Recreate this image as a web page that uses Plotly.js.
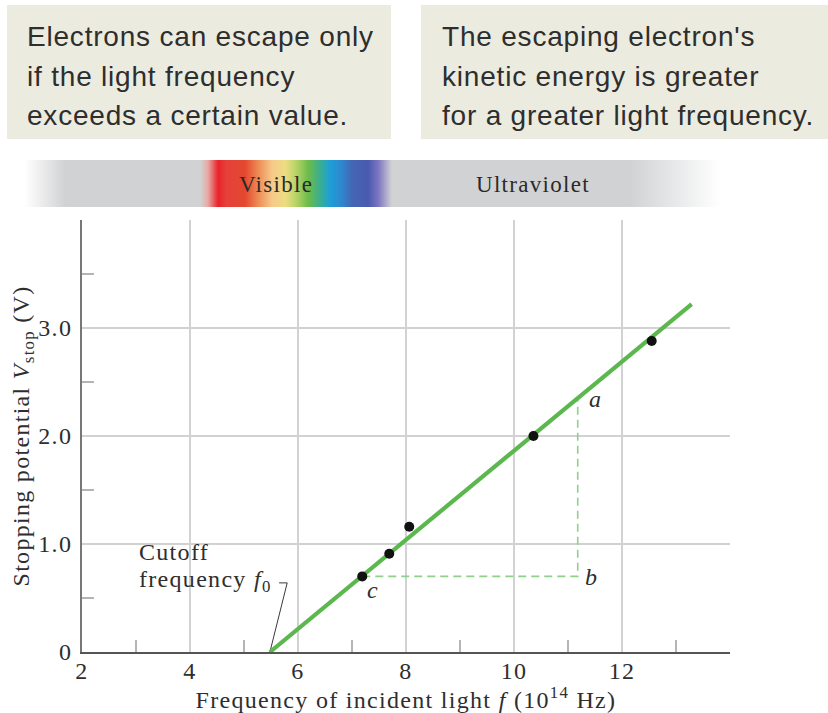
<!DOCTYPE html>
<html>
<head>
<meta charset="utf-8">
<script src="https://cdn.plot.ly/plotly-3.0.1.min.js"></script>
<style>
  html, body { margin: 0; padding: 0; background: #ffffff; }
  #chart { width: 828px; height: 713px; }
  svg text[style*="Liberation Sans"] { letter-spacing: 0.8px; }
  svg text[style*="Liberation Serif"] { letter-spacing: 1.3px; }
</style>
</head>
<body>
<div id="chart"></div>
<script>
// ---- data ----
const freq  = [7.19, 7.69, 8.06, 10.36, 12.55];          // 10^14 Hz
const vstop = [0.70, 0.91, 1.16, 2.00, 2.88];            // V
const fitFreq = [5.48, 13.29];                            // fitted line ends
const fitV    = [0.00, 3.22];
const triFreq = [7.19, 11.18, 11.18];                     // c -> b -> a
const triV    = [0.70, 0.70, 2.34];
const cutoffF0 = 5.48;
const leaderFreq = [5.65, 5.80, cutoffF0];
const leaderV    = [0.64, 0.64, 0.00];

const xTickVals = [2, 4, 6, 8, 10, 12, 14];
const xTickText = ['2', '4', '6', '8', '10', '12', ''];
const xMinorVals = [3, 5, 7, 9, 11, 13];
const yTickVals = [0, 1, 2, 3, 4];
const yTickText = ['0', '1.0', '2.0', '3.0', ''];
const yMinorVals = [0.5, 1.5, 2.5, 3.5];

const boxLeftLines  = ['Electrons can escape only', 'if the light frequency', 'exceeds a certain value.'];
const boxRightLines = ["The escaping electron's", 'kinetic energy is greater', 'for a greater light frequency.'];

// spectrum band (frequency units, 10^14 Hz) and colours
const bandFreq   = [0.94, 13.82];
const bandStops  = [0.94, 1.69, 4.19, 4.33, 4.52, 4.67, 5.02, 5.26, 5.52, 5.76, 5.96, 6.19, 6.41, 6.59, 6.82, 7.00, 7.30, 7.48, 7.74, 12.15, 13.82];
const bandColors = ['#ffffff', '#d1d2d4', '#d1d2d4', '#e7aaa4', '#e8232a', '#e6403a', '#e4482f', '#ee8a55', '#f7c98a', '#eedc82',
                    '#b8d468', '#6cbc4c', '#3aae90', '#1e9ed8', '#2f86cc', '#4466b4', '#4a5aae', '#7a74c0', '#d1d2d4', '#d1d2d4', '#ffffff'];

// ---- build ----
const W = 828, H = 713;
const serif = 'Liberation Serif, Times New Roman, serif';
const sans = 'Liberation Sans, Arial, sans-serif';
const ink = '#2e2e2e';

const span = bandFreq[1] - bandFreq[0];
const colorscale = bandStops.map((f, i) => [(f - bandFreq[0]) / span, bandColors[i]]);

const traces = [
  { // spectrum band
    x: [bandFreq[0], bandFreq[1], bandFreq[1], bandFreq[0], bandFreq[0]],
    y: [0, 0, 1, 1, 0],
    xaxis: 'x2', yaxis: 'y2',
    type: 'scatter', mode: 'lines', fill: 'toself',
    line: { width: 0, color: 'rgba(0,0,0,0)' },
    fillgradient: { type: 'horizontal', colorscale: colorscale },
    hoverinfo: 'skip'
  },
  { // dashed triangle c-b-a
    x: triFreq, y: triV, type: 'scatter', mode: 'lines',
    line: { color: '#8fd08a', width: 1.6, dash: '8px,5px' }, hoverinfo: 'skip'
  },
  { // leader for cutoff label
    x: leaderFreq, y: leaderV, type: 'scatter', mode: 'lines',
    line: { color: '#3a3a3a', width: 1 }, hoverinfo: 'skip', cliponaxis: false
  },
  { // fitted line
    x: fitFreq, y: fitV, type: 'scatter', mode: 'lines',
    line: { color: '#5cb84e', width: 4.2 }, hoverinfo: 'skip'
  },
  { // measured points
    x: freq, y: vstop, type: 'scatter', mode: 'markers',
    marker: { color: '#111111', size: 10 }, hoverinfo: 'skip'
  }
];

const xLeftPx = 82, xRightPx = 730, plotBottomPx = 652;
const pxPerUnit = (xRightPx - xLeftPx) / (xTickVals[xTickVals.length - 1] - xTickVals[0]);
const x2Range = [xTickVals[0] - xLeftPx / pxPerUnit, xTickVals[0] + (W - xLeftPx) / pxPerUnit];
const py = p => (plotBottomPx - p) / plotBottomPx;   // pixel row -> paper y (margin t=0, b=61)

const annotations = [];
const lineY = [36, 76, 116];
boxLeftLines.forEach((t, i) => annotations.push({
  text: t, xref: 'paper', yref: 'paper', x: 25 / W, y: py(lineY[i]), xanchor: 'left', yanchor: 'middle',
  showarrow: false, font: { family: sans, size: 28, color: ink }
}));
boxRightLines.forEach((t, i) => annotations.push({
  text: t, xref: 'paper', yref: 'paper', x: 440 / W, y: py(lineY[i]), xanchor: 'left', yanchor: 'middle',
  showarrow: false, font: { family: sans, size: 28, color: ink }
}));
annotations.push(
  { text: 'Visible', xref: 'x', yref: 'paper', x: 5.59, y: py(184), yanchor: 'middle', showarrow: false,
    font: { family: serif, size: 23, color: '#2a2a2a' } },
  { text: 'Ultraviolet', xref: 'x', yref: 'paper', x: 10.35, y: py(184), yanchor: 'middle', showarrow: false,
    font: { family: serif, size: 23, color: '#2a2a2a' } },
  { text: 'Cutoff', xref: 'x', yref: 'y', x: 3.02, y: 0.93, xanchor: 'left', yanchor: 'middle', showarrow: false,
    font: { family: serif, size: 24, color: ink } },
  { text: 'frequency <i>f</i><sub>0</sub>', xref: 'x', yref: 'y', x: 3.02, y: 0.66, xanchor: 'left', yanchor: 'middle', showarrow: false,
    font: { family: serif, size: 24, color: ink } },
  { text: '<i>a</i>', xref: 'x', yref: 'y', x: 11.50, y: 2.34, showarrow: false,
    font: { family: serif, size: 24, color: ink } },
  { text: '<i>b</i>', xref: 'x', yref: 'y', x: 11.44, y: 0.69, showarrow: false,
    font: { family: serif, size: 24, color: ink } },
  { text: '<i>c</i>', xref: 'x', yref: 'y', x: 7.39, y: 0.57, showarrow: false,
    font: { family: serif, size: 24, color: ink } }
);

const shapes = [
  { type: 'rect', xref: 'paper', yref: 'paper', x0: 7 / W, x1: 391 / W, y0: py(139), y1: py(5),
    fillcolor: '#ecebe0', line: { width: 0 }, layer: 'below' },
  { type: 'rect', xref: 'paper', yref: 'paper', x0: 421 / W, x1: 1, y0: py(139), y1: py(5),
    fillcolor: '#ecebe0', line: { width: 0 }, layer: 'below' }
];

const layout = {
  width: W, height: H,
  margin: { l: 0, r: 0, t: 0, b: 61, pad: 0 },
  paper_bgcolor: '#ffffff', plot_bgcolor: 'rgba(0,0,0,0)',
  showlegend: false, hovermode: false,
  font: { family: serif, size: 24, color: ink },
  xaxis: {
    domain: [xLeftPx / W, xRightPx / W], range: [2, 14], anchor: 'y',
    tickmode: 'array', tickvals: xTickVals, ticktext: xTickText,
    ticks: '', ticklabelstandoff: -4,
    showgrid: true, gridcolor: '#d2d2d2', gridwidth: 1.5,
    showline: true, linecolor: '#555555', linewidth: 2, zeroline: false, mirror: false,
    minor: { tickmode: 'array', tickvals: xMinorVals, ticks: 'inside', ticklen: 12, tickwidth: 1.5, tickcolor: '#b5b5b5', showgrid: false },
    tickfont: { family: serif, size: 24, color: ink },
    title: { text: 'Frequency of incident light <i>f</i> (10<sup>14</sup> Hz)', standoff: 0,
             font: { family: serif, size: 24, color: ink } }
  },
  yaxis: {
    domain: [0, (plotBottomPx - 220) / plotBottomPx], range: [0, 4], anchor: 'x',
    tickmode: 'array', tickvals: yTickVals, ticktext: yTickText,
    ticks: '', ticklabelstandoff: 3,
    showgrid: true, gridcolor: '#d2d2d2', gridwidth: 1.5,
    showline: true, linecolor: '#777777', linewidth: 2, zeroline: false, mirror: false,
    minor: { tickmode: 'array', tickvals: yMinorVals, ticks: 'inside', ticklen: 12, tickwidth: 1.5, tickcolor: '#b5b5b5', showgrid: false },
    tickfont: { family: serif, size: 24, color: ink },
    title: { text: 'Stopping potential <i>V</i><sub>stop</sub> (V)', standoff: 2,
             font: { family: serif, size: 24, color: ink } }
  },
  xaxis2: { domain: [0, 1], range: x2Range, anchor: 'y2', visible: false, fixedrange: true },
  yaxis2: { domain: [py(207), py(160)], range: [0, 1], anchor: 'x2', visible: false, fixedrange: true },
  annotations: annotations,
  shapes: shapes
};

Plotly.newPlot('chart', traces, layout, { staticPlot: true, displayModeBar: false });
</script>
</body>
</html>
